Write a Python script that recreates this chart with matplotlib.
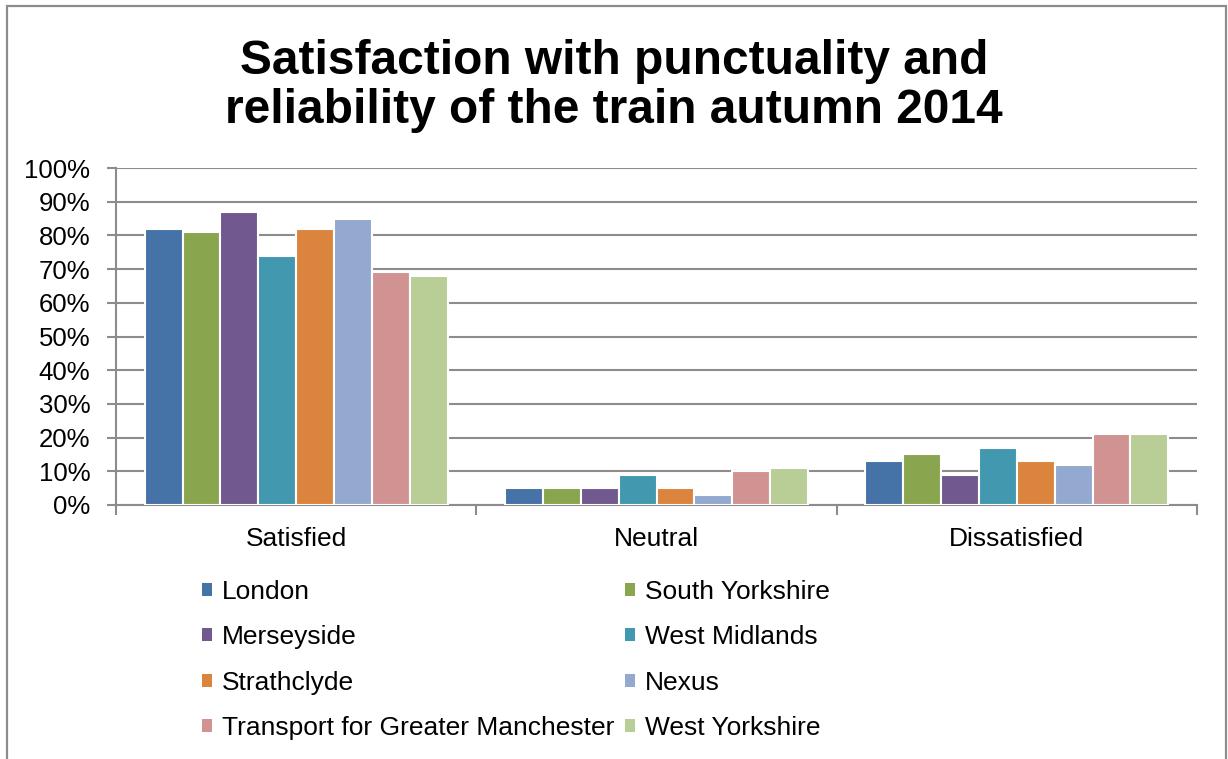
import matplotlib
matplotlib.use("Agg")
import matplotlib.pyplot as plt
import numpy as np
from matplotlib.patches import Rectangle, Patch

categories = ["Satisfied", "Neutral", "Dissatisfied"]
series_names = ["London", "South Yorkshire", "Merseyside", "West Midlands",
                "Strathclyde", "Nexus", "Transport for Greater Manchester", "West Yorkshire"]
london = [82, 5, 13]
south_yorkshire = [81, 5, 15]
merseyside = [87, 5, 9]
west_midlands = [74, 9, 17]
strathclyde = [82, 5, 13]
nexus = [85, 3, 12]
tfgm = [69, 10, 21]
west_yorkshire = [68, 11, 21]
series_values = [london, south_yorkshire, merseyside, west_midlands,
                 strathclyde, nexus, tfgm, west_yorkshire]
colors = ["#4572A7", "#89A54E", "#71588F", "#4198AF",
          "#DB843D", "#93A9CF", "#D19392", "#B9CD96"]
yticks = [0, 10, 20, 30, 40, 50, 60, 70, 80, 90, 100]
ytick_labels = [f"{v}%" for v in yticks]

plt.rcParams['font.family'] = ['Liberation Sans', 'DejaVu Sans']

fig = plt.figure(figsize=(12.28, 7.59), dpi=100)
ax = fig.add_axes([116/1228, 1-505/759, 1081/1228, 337/759])

n = len(series_names)
group_w = 0.84
bw = group_w / n
x = np.arange(len(categories))
handles = []
for i, (name, vals, c) in enumerate(zip(series_names, series_values, colors)):
    pos = x - group_w/2 + bw*(i+0.5)
    ax.bar(pos, vals, width=bw, color=c, edgecolor="white", linewidth=1.5, zorder=3)
    handles.append(Patch(facecolor=c, edgecolor="none", label=name))

ax.set_xlim(-0.5, len(categories)-0.5)
ax.set_ylim(0, 100)
ax.set_yticks(yticks)
ax.set_yticklabels(ytick_labels, fontsize=18.5)
ax.yaxis.grid(True, color="#8C8C8C", linewidth=1.5, zorder=0)
ax.set_axisbelow(True)

ax.set_xticks(x)
ax.set_xticklabels(categories, fontsize=19)
ax.tick_params(axis='x', length=0, pad=15.5)
ax.set_xticks(np.arange(len(categories)+1)-0.5, minor=True)
ax.tick_params(axis='x', which='minor', length=7, width=1.5, color="#8C8C8C")
ax.tick_params(axis='y', length=6.5, width=1.5, color="#8C8C8C", pad=12)
for s in ["top", "right"]:
    ax.spines[s].set_visible(False)
for s in ["left", "bottom"]:
    ax.spines[s].set_color("#8C8C8C")
    ax.spines[s].set_linewidth(1.5)

fig.text(0.5, 1-86/759, "Satisfaction with punctuality and\nreliability of the train autumn 2014",
         ha="center", va="center", fontsize=34.5, fontweight="bold", linespacing=1.1)

order = [0, 2, 4, 6, 1, 3, 5, 7]
leg = fig.legend([handles[i] for i in order], [series_names[i] for i in order],
                 ncol=2, loc="upper left", bbox_to_anchor=(202/1228, 1-580/759),
                 frameon=False, fontsize=19, handlelength=0.38, handleheight=0.38,
                 handletextpad=0.38, labelspacing=0.81, columnspacing=0.4,
                 borderpad=0, borderaxespad=0)

fig.patches.append(Rectangle((6.5/1228, -0.01), 1219/1228, 1-6/759+0.01, transform=fig.transFigure,
                             fill=False, edgecolor="#8C8C8C", linewidth=1.6))

fig.savefig("out.png", dpi=100, facecolor="white")
